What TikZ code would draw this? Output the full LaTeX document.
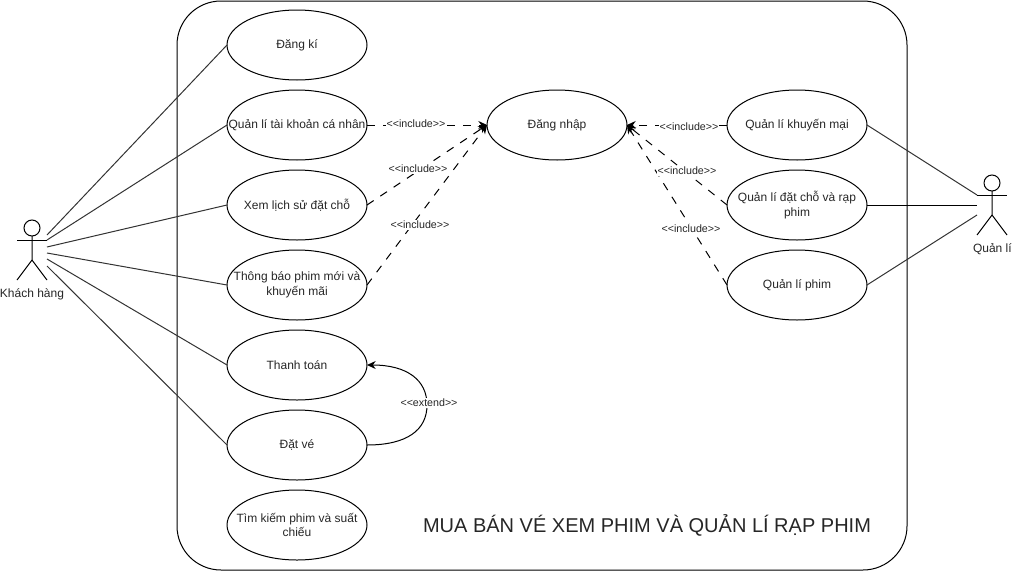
\documentclass[tikz,border=0pt]{standalone}
\usepackage{fontspec}
\setmainfont{Liberation Sans}
\usetikzlibrary{shapes.geometric,arrows.meta}
\tikzset{
  x=0.75pt,y=-0.75pt,
  usecase/.style={draw,ellipse,minimum width=105pt,minimum height=52.5pt,inner sep=0pt,outer sep=0pt,line width=0.75pt},
  uctext/.style={font=\fontsize{9}{11}\selectfont,align=center,text=black!85,inner sep=0pt},
  assoc/.style={draw=black!80,line width=0.75pt},
  limb/.style={line width=0.75pt},
  depend/.style={line width=0.75pt,dash pattern=on 6pt off 6pt,-{Stealth[length=6.5pt,width=6pt]}},
  deplabel/.style={font=\fontsize{8}{10}\selectfont,fill=white,inner sep=0.5pt,text=black!85},
  actortext/.style={font=\fontsize{9}{11}\selectfont,text=black!85,inner sep=0pt}
}
\begin{document}
\begin{tikzpicture}
\useasboundingbox (0,0) rectangle (1012,571);
\node[draw,line width=0.75pt,rounded corners=33pt,minimum width=547.5pt,minimum height=426.75pt,inner sep=0pt,outer sep=0pt] (system) at (542,285.5) {};

\node[usecase,label={[uctext]center:{Đăng kí}}] (dangki) at (297,45) {};
\node[usecase,label={[uctext]center:{Quản lí tài khoản cá nhân}}] (taikhoan) at (297,125) {};
\node[usecase,label={[uctext]center:{Xem lịch sử đặt chỗ}}] (lichsu) at (297,205) {};
\node[usecase,label={[uctext]center:{Thông báo phim mới và\\khuyến mãi}}] (thongbao) at (297,285) {};
\node[usecase,label={[uctext]center:{Thanh toán}}] (thanhtoan) at (297,365) {};
\node[usecase,label={[uctext]center:{Đặt vé}}] (datve) at (297,445) {};
\node[usecase,label={[uctext]center:{Tìm kiếm phim và suất\\chiếu}}] (timkiem) at (297,525) {};
\node[usecase,label={[uctext]center:{Đăng nhập}}] (dangnhap) at (557,125) {};
\node[usecase,label={[uctext]center:{Quản lí khuyến mại}}] (khuyenmai) at (797,125) {};
\node[usecase,label={[uctext]center:{Quản lí đặt chỗ và rạp\\phim}}] (datcho) at (797,205) {};
\node[usecase,label={[uctext]center:{Quản lí phim}}] (phim) at (797,285) {};

\node[font=\fontsize{15}{18}\selectfont,text=black!85,inner sep=0pt] (title) at (647,525) {MUA BÁN VÉ XEM PHIM VÀ QUẢN LÍ RẠP PHIM};

% left actor
\node[draw,circle,minimum size=12pt,inner sep=0pt,outer sep=0pt,line width=0.75pt] (khead) at (32,228) {};
\coordinate (kneck) at (32,236);
\coordinate (khip) at (32,260);
\draw[limb] (khead.south) -- (khip) -- (17,280);
\draw[limb] (khip) -- (47,280);
\draw[limb] (17,240) -- (47,240);
\node[actortext] (klabel) at (32,294) {Khách hàng};
\coordinate (kp1) at (47,235);
\coordinate (kp2) at (47,240);
\coordinate (kp3) at (47,247);
\coordinate (kp4) at (47,253);
\coordinate (kp5) at (47,259);
\coordinate (kp6) at (47,266);
\draw[assoc] (kp1) -- (dangki.west);
\draw[assoc] (kp2) -- (taikhoan.west);
\draw[assoc] (kp3) -- (lichsu.west);
\draw[assoc] (kp4) -- (thongbao.west);
\draw[assoc] (kp5) -- (thanhtoan.west);
\draw[assoc] (kp6) -- (datve.west);

% right actor
\node[draw,circle,minimum size=12pt,inner sep=0pt,outer sep=0pt,line width=0.75pt] (qhead) at (992,183) {};
\coordinate (qhip) at (992,215);
\draw[limb] (qhead.south) -- (qhip) -- (977,235);
\draw[limb] (qhip) -- (1007,235);
\draw[limb] (977,195) -- (1007,195);
\node[actortext,anchor=east] (qlabel) at (1012,249) {Quản lí};
\coordinate (qp1) at (977,195);
\coordinate (qp2) at (977,205);
\coordinate (qp3) at (977,215);
\draw[assoc] (khuyenmai.east) -- (qp1);
\draw[assoc,draw=black] (datcho.east) -- (qp2);
\draw[assoc] (phim.east) -- (qp3);

% includes
\draw[depend] (taikhoan.east) -- (dangnhap.west);
\draw[depend] (lichsu.east) -- (dangnhap.west);
\draw[depend] (thongbao.east) -- (dangnhap.west);
\draw[depend] (khuyenmai.west) -- (dangnhap.east);
\draw[depend] (datcho.west) -- (dangnhap.east);
\draw[depend] (phim.west) -- (dangnhap.east);
\node[deplabel] (l1) at (416,124) {<{}<include>{}>};
\node[deplabel] (l2) at (418,169) {<{}<include>{}>};
\node[deplabel] (l3) at (420,225) {<{}<include>{}>};
\node[deplabel] (l4) at (689,127) {<{}<include>{}>};
\node[deplabel] (l5) at (687,171) {<{}<include>{}>};
\node[deplabel] (l6) at (691,229) {<{}<include>{}>};

% extend
\coordinate (ebend) at (427,405);
\draw[line width=0.75pt,-{Stealth[length=6.5pt,width=6pt]}] (datve.east) .. controls (407,445) and (427,430) .. (ebend) .. controls (427,380) and (407,365) .. (thanhtoan.east);
\node[deplabel] (l7) at (429,403) {<{}<extend>{}>};
\end{tikzpicture}
\end{document}
